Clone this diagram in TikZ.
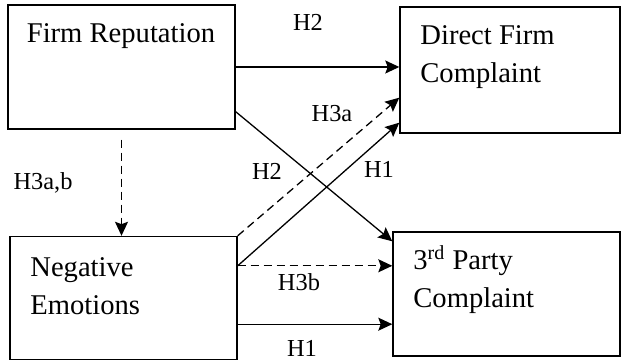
\documentclass[tikz,border=0pt]{standalone}
\usepackage{fontspec}
\setmainfont{Liberation Serif}
\usetikzlibrary{positioning, arrows.meta, calc}
\tikzset{
  factor/.style={rectangle, draw=black, line width=0.7pt, inner sep=0pt},
  boxtext/.style={font=\fontsize{14.3}{19}\selectfont, inner sep=0pt, align=left},
  hyp/.style={font=\fontsize{12.2}{14}\selectfont, inner sep=0pt, anchor=base},
  arrow/.style={line width=0.65pt,-{Stealth[length=7pt,width=6.5pt,inset=1.2pt]}},
  dasharrow/.style={arrow, dash pattern=on 4pt off 2.5pt}
}
\begin{document}
\begin{tikzpicture}[x=0.5pt, y=-0.5pt]
    \useasboundingbox (0,0) rectangle (621,362);
    % the four boxes
    \node (rep) [factor, minimum width=113.5pt, minimum height=62pt] at (121.5,67) {};
    \node (neg) [factor, minimum width=113.5pt, minimum height=61.5pt] at (123.5,298) {};
    \node (direct) [factor, minimum width=110pt, minimum height=63pt] at (510,70) {};
    \node (third) [factor, minimum width=113.5pt, minimum height=62pt] at (506.5,294) {};

    % box texts (base = last line)
    \node (reptxt) [boxtext, anchor=base] at (121,43) {Firm Reputation};
    \node (negtxt) [boxtext, anchor=base west] at (30,315) {Negative\\Emotions};
    \node (directtxt) [boxtext, anchor=base west] at (420,83) {Direct Firm\\Complaint};
    \node (thirdtxt) [boxtext, anchor=base west] at (413,308) {3\textsuperscript{rd} Party\\Complaint};

    \coordinate (negout) at ([yshift=-15pt]neg.north east);

    \draw [arrow] (rep.east) -- (rep.east -| direct.west);
    \draw [arrow] ([yshift=9pt]rep.south east) -- ([yshift=-5pt]third.north west);
    \draw [dasharrow] ([yshift=-5pt]rep.south) -- (rep.south |- neg.north);
    \draw [dasharrow] (neg.north east) -- ([yshift=18pt]direct.south west);
    \draw [arrow] (negout) -- ([yshift=5.5pt]direct.south west);
    \draw [dasharrow] (negout) -- (negout -| third.west);
    \draw [arrow] ([yshift=18pt]neg.south east) -- ([yshift=18pt]neg.south east -| third.west);

    % hypothesis labels
    \node (h2top) [hyp] at (308,31) {H2};
    \node (h2low) [hyp] at (267,180) {H2};
    \node (h1mid) [hyp] at (379,178) {H1};
    \node (h3ab) [hyp] at (43,190) {H3a,b};
    \node (h3a) [hyp] at (332,122) {H3a};
    \node (h3b) [hyp] at (299,291) {H3b};
    \node (h1low) [hyp] at (302,357) {H1};
\end{tikzpicture}
\end{document}
